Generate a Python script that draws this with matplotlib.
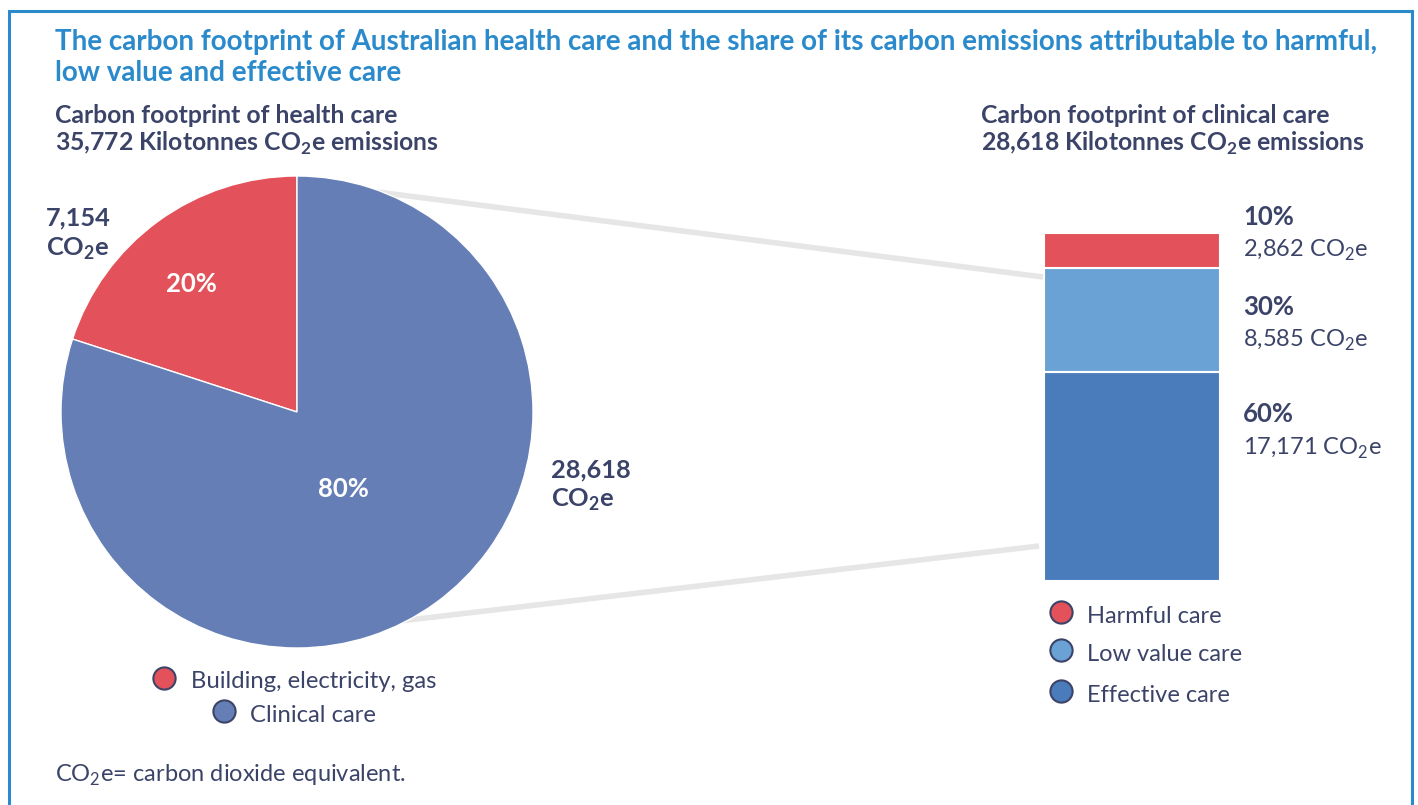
import matplotlib
matplotlib.use("Agg")
import matplotlib.pyplot as plt

plt.rcParams['font.family'] = ['Lato', 'DejaVu Sans']
plt.rcParams['mathtext.fontset'] = 'custom'
plt.rcParams['mathtext.rm'] = 'Lato'
plt.rcParams['mathtext.bf'] = 'Lato:bold'

# data
pie_labels = ['Building, electricity, gas', 'Clinical care']
pie_values = [7154, 28618]
pie_pcts = ['20%', '80%']
bar_labels = ['Harmful care', 'Low value care', 'Effective care']
bar_values = [2862, 8585, 17171]
bar_pcts = ['10%', '30%', '60%']
bar_texts = ['2,862', '8,585', '17,171']

red = '#E3525A'
pie_blue = '#657FB6'
light_blue = '#6BA2D6'
dark_blue = '#4A7CBC'
navy = '#3B4468'
title_blue = '#2A8ACB'

W, H = 1418, 805
fig = plt.figure(figsize=(W / 100, H / 100), dpi=100)
ax = fig.add_axes([0, 0, 1, 1])
ax.set_xlim(0, W)
ax.set_ylim(H, 0)
ax.axis('off')

# frame
ax.plot([9, 9, 1412, 1412], [H + 5, 11, 11, H + 5], color=title_blue, lw=2.2,
        solid_joinstyle='miter')

# connector lines
ax.plot([330, 1043], [186, 277], color='#E6E6E7', lw=4, solid_capstyle='butt')
ax.plot([400, 1039], [621, 546], color='#E6E6E7', lw=4, solid_capstyle='butt')

# pie
cx, cy, r = 297, 412, 236
pax = fig.add_axes([(cx - r) / W, (H - cy - r) / H, 2 * r / W, 2 * r / H])
pax.pie(pie_values, colors=[red, pie_blue], startangle=90, counterclock=True,
        radius=1, wedgeprops=dict(edgecolor='white', linewidth=1))
pax.set_xlim(-1, 1)
pax.set_ylim(-1, 1)
pax.axis('off')
# percentage labels drawn on top of the wedges
pax.text(191, 292, pie_pcts[0], fontsize=18.5, fontweight='bold', color='white',
         ha='center', va='baseline', transform=ax.transData)
pax.text(343, 497, pie_pcts[1], fontsize=18.5, fontweight='bold', color='white',
         ha='center', va='baseline', transform=ax.transData)

# stacked bar
bx0, bx1, by0, by1 = 1044, 1220, 233, 581
bax = fig.add_axes([bx0 / W, (H - by1) / H, (bx1 - bx0) / W, (by1 - by0) / H])
bottom = 0
stack = list(zip(bar_values, [red, light_blue, dark_blue]))[::-1]
for v, c in stack:
    bax.bar(0, v, bottom=bottom, width=1, color=c, edgecolor='white', linewidth=1.5)
    bottom += v
bax.set_xlim(-0.5, 0.5)
bax.set_ylim(0, sum(bar_values))
bax.axis('off')

# titles
ax.text(55, 50, 'The carbon footprint of Australian health care and the share of its carbon emissions attributable to harmful,',
        fontsize=20, fontweight='bold', color=title_blue, va='baseline')
ax.text(55, 81, 'low value and effective care', fontsize=20, fontweight='bold',
        color=title_blue, va='baseline')

sub_kw = dict(fontsize=17.8, fontweight='bold', color=navy, va='baseline')
ax.text(55, 123, 'Carbon footprint of health care', **sub_kw)
ax.text(55, 151, '35,772 Kilotonnes CO$_\\mathbf{2}$e emissions', **sub_kw)
ax.text(981, 123, 'Carbon footprint of clinical care', **sub_kw)
ax.text(981, 151, '28,618 Kilotonnes CO$_\\mathbf{2}$e emissions', **sub_kw)

# pie value labels
lab_kw = dict(fontsize=18.3, fontweight='bold', color=navy, va='baseline')
ax.text(46, 225, '7,154', **lab_kw)
ax.text(46, 256, 'CO$_\\mathbf{2}$e', **lab_kw)
ax.text(551, 477, '28,618', **lab_kw)
ax.text(551, 507, 'CO$_\\mathbf{2}$e', **lab_kw)

# bar labels
pct_y = [225, 315, 422]
val_y = [257, 347, 455]
for p, t, y1, y2 in zip(bar_pcts, bar_texts, pct_y, val_y):
    ax.text(1243, y1, p, fontsize=18.5, fontweight='bold', color=navy, va='baseline')
    ax.text(1243, y2, t + ' CO$_2$e', fontsize=17, color=navy, va='baseline')

# legends
for (x, y), c, lab, (tx, ty) in zip([(164, 678), (224, 711)], [red, pie_blue], pie_labels,
                                      [(191, 688), (250, 722)]):
    ax.plot(x, y, 'o', ms=16, mfc=c, mec=navy, mew=1.5)
    ax.text(tx, ty, lab, fontsize=17.2, color=navy, va='baseline')

for y, c, lab, ty in zip([612, 650, 691], [red, light_blue, dark_blue], bar_labels,
                         [623, 661, 702]):
    ax.plot(1061, y, 'o', ms=16, mfc=c, mec=navy, mew=1.5)
    ax.text(1087, ty, lab, fontsize=17, color=navy, va='baseline')

ax.text(55, 782, 'CO$_2$e= carbon dioxide equivalent.', fontsize=17, color=navy,
        va='baseline')

fig.savefig('out.png', dpi=100)
